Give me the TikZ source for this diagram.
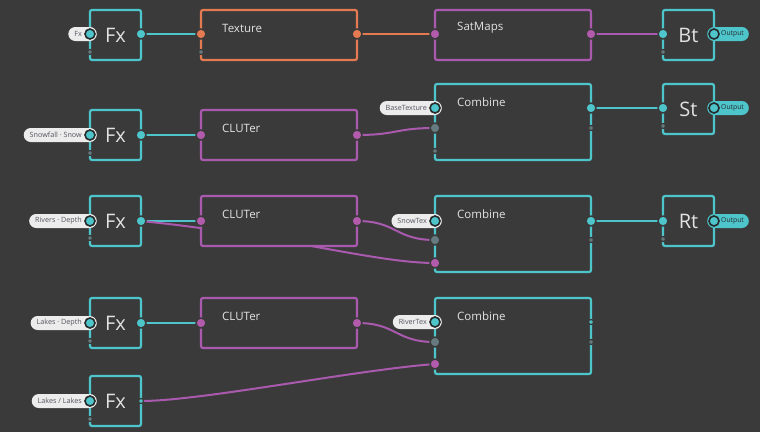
\documentclass[tikz,border=0pt]{standalone}
\usepackage{fontspec}
\setmainfont{Open Sans}
\pgfdeclarelayer{back}
\pgfdeclarelayer{wires}
\pgfsetlayers{back,wires,main}

\definecolor{bgdark}{HTML}{3A3A3A}
\definecolor{ncyan}{HTML}{4EC4CB}
\definecolor{norange}{HTML}{E47A52}
\definecolor{npurple}{HTML}{A95AAE}
\definecolor{ppurple}{HTML}{B25AAC}
\definecolor{pgrey}{HTML}{667A80}
\definecolor{ringdark}{HTML}{262A2B}
\definecolor{pillwhite}{HTML}{ECECEC}
\definecolor{pilltext}{HTML}{555560}
\definecolor{titletext}{HTML}{E2E2E2}

\tikzstyle{fxbox} = [draw=ncyan, line width=2.2pt, fill=bgdark, rounded corners=2pt, minimum width=51pt, minimum height=50pt, inner sep=0pt, text=titletext, font=\fontsize{20}{20}\selectfont]
\tikzstyle{bigbox} = [line width=2.2pt, fill=bgdark, rounded corners=2pt, minimum width=156pt, inner sep=0pt]
\tikzstyle{title} = [anchor=west, inner sep=0pt, text=titletext, font=\fontsize{11.5}{12}\selectfont]
\tikzstyle{port} = [circle, minimum size=10pt, inner sep=0pt, draw=bgdark, line width=1.4pt]
\tikzstyle{dot} = [circle, minimum size=5pt, inner sep=0pt, fill=pgrey, draw=bgdark, line width=1.2pt]
\tikzstyle{ring} = [circle, minimum size=10pt, inner sep=0pt, fill=ncyan, draw=ringdark, line width=1.6pt]
\tikzstyle{pill} = [rounded corners=7pt, fill=pillwhite, text=pilltext, minimum height=14pt, inner xsep=6pt, inner ysep=0pt, font=\fontsize{7.2}{8}\selectfont, anchor=east]
\tikzstyle{outpill} = [rounded corners=7pt, fill=ncyan, text=ringdark, minimum height=14pt, inner xsep=5pt, inner ysep=0pt, font=\fontsize{6.8}{7}\selectfont, anchor=west]
\tikzstyle{wire} = [line width=2pt]

\begin{document}
\begin{tikzpicture}[x=1pt, y=-1pt]
\begin{pgfonlayer}{back}
\fill[bgdark] (0,0) rectangle (760,432);
\end{pgfonlayer}
%begin row1
\node[fxbox] (fx1) at (115.5,35) {Fx};
\node[bigbox, draw=norange, minimum height=50pt] (tex) at (279,35) {};
\node[title] (textitle) at (222,28) {Texture};
\node[bigbox, draw=npurple, minimum height=50pt] (sat) at (513,35) {};
\node[title] (sattitle) at (457,28) {SatMaps};
\node[fxbox] (bt) at (688.5,35) {Bt};
\node[pill] (fx1pill) at (97,34) {Fx\kern9pt};
\node[ring] (fx1in) at (90,34) {};
\node[dot] (fx1d) at (90,52) {};
\node[port, fill=ncyan] (fx1out) at (141,34) {};
\node[port, fill=norange] (texin) at (201,34) {};
\node[dot] (texd) at (201,52) {};
\node[port, fill=norange] (texout) at (357,34) {};
\node[port, fill=ppurple] (satin) at (435,34) {};
\node[port, fill=ppurple] (satout) at (591,34) {};
\node[port, fill=ncyan] (btin) at (663,34) {};
\node[dot] (btd) at (663,52) {};
\node[outpill] (btpill) at (707,34) {\kern9pt Output};
\node[ring] (btout) at (714,34) {};
%end row1
%begin row2
\node[fxbox] (fx2) at (115.5,135) {Fx};
\node[bigbox, draw=npurple, minimum height=50pt] (clu2) at (279,135) {};
\node[title] (clu2title) at (222,128) {CLUTer};
\node[bigbox, draw=ncyan, minimum height=76pt] (comb2) at (513,122) {};
\node[title] (comb2title) at (457,102) {Combine};
\node[fxbox] (st) at (688.5,109) {St};
\node[pill] (fx2pill) at (97,135) {Snowfall · Snow\kern9pt};
\node[ring] (fx2in) at (90,135) {};
\node[dot] (fx2d) at (90,153) {};
\node[port, fill=ncyan] (fx2out) at (141,135) {};
\node[port, fill=ppurple] (clu2in) at (201,135) {};
\node[port, fill=ppurple] (clu2out) at (357,135) {};
\node[pill] (comb2pill) at (442,108) {BaseTexture\kern9pt};
\node[ring] (comb2a) at (435,108) {};
\node[port, fill=pgrey] (comb2b) at (435,128) {};
\node[dot] (comb2d) at (435,151) {};
\node[port, fill=ncyan] (comb2out) at (591,108) {};
\node[dot] (comb2e) at (591,128) {};
\node[port, fill=ncyan] (stin) at (663,108) {};
\node[dot] (std) at (663,126) {};
\node[outpill] (stpill) at (707,108) {\kern9pt Output};
\node[ring] (stout) at (714,108) {};
%end row2
%begin row3
\node[fxbox] (fx3) at (115.5,221) {Fx};
\node[bigbox, draw=npurple, minimum height=50pt] (clu3) at (279,221) {};
\node[title] (clu3title) at (222,214) {CLUTer};
\node[bigbox, draw=ncyan, minimum height=76pt] (comb3) at (513,234) {};
\node[title] (comb3title) at (457,214) {Combine};
\node[fxbox] (rt) at (688.5,221) {Rt};
\node[pill] (fx3pill) at (97,221) {Rivers · Depth\kern9pt};
\node[ring] (fx3in) at (90,221) {};
\node[dot] (fx3d) at (90,238) {};
\node[port, fill=ncyan] (fx3out) at (141,221) {};
\node[port, fill=ppurple] (clu3in) at (201,221) {};
\node[port, fill=ppurple] (clu3out) at (357,221) {};
\node[pill] (comb3pill) at (442,221) {SnowTex\kern9pt};
\node[ring] (comb3a) at (435,221) {};
\node[port, fill=pgrey] (comb3b) at (435,240) {};
\node[port, fill=ppurple] (comb3c) at (435,263) {};
\node[port, fill=ncyan] (comb3out) at (591,221) {};
\node[dot] (comb3e) at (591,240) {};
\node[port, fill=ncyan] (rtin) at (663,221) {};
\node[dot] (rtd) at (663,239) {};
\node[outpill] (rtpill) at (707,221) {\kern9pt Output};
\node[ring] (rtout) at (714,221) {};
%end row3
%begin row4
\node[fxbox] (fx4) at (115.5,323) {Fx};
\node[bigbox, draw=npurple, minimum height=50pt] (clu4) at (279,323) {};
\node[title] (clu4title) at (222,316) {CLUTer};
\node[bigbox, draw=ncyan, minimum height=76pt] (comb4) at (513,336) {};
\node[title] (comb4title) at (457,316) {Combine};
\node[pill] (fx4pill) at (97,323) {Lakes · Depth\kern9pt};
\node[ring] (fx4in) at (90,323) {};
\node[dot] (fx4d) at (90,341) {};
\node[port, fill=ncyan] (fx4out) at (141,323) {};
\node[port, fill=ppurple] (clu4in) at (201,323) {};
\node[port, fill=ppurple] (clu4out) at (357,323) {};
\node[pill] (comb4pill) at (442,322) {RiverTex\kern9pt};
\node[ring] (comb4a) at (435,322) {};
\node[port, fill=pgrey] (comb4b) at (435,342) {};
\node[port, fill=ppurple] (comb4c) at (435,364) {};
\node[dot, fill=ncyan] (comb4out) at (591,322) {};
\node[dot] (comb4e) at (591,342) {};
%end row4
%begin row5
\node[fxbox] (fx5) at (115.5,401) {Fx};
\node[pill] (fx5pill) at (97,401) {Lakes / Lakes\kern9pt};
\node[ring] (fx5in) at (90,401) {};
\node[dot] (fx5d) at (90,419) {};
\node[dot, fill=ncyan] (fx5out) at (141,401) {};
%end row5
%begin wires
\begin{pgfonlayer}{wires}
\draw[wire, ncyan] (fx1out.center) -- (texin.center);
\draw[wire, norange] (texout.center) -- (satin.center);
\draw[wire, npurple] (satout.center) -- (btin.center);
\draw[wire, ncyan] (fx2out.center) -- (clu2in.center);
\draw[wire, npurple] (clu2out.center) .. controls +(40,0) and +(-40,0) .. (comb2b.center);
\draw[wire, ncyan] (comb2out.center) -- (stin.center);
\draw[wire, ncyan] (fx3out.center) -- (clu3in.center);
\draw[wire, npurple] (fx3out.center) .. controls +(140,14) and +(-60,0) .. (comb3c.center);
\draw[wire, npurple] (clu3out.center) .. controls +(40,0) and +(-40,0) .. (comb3b.center);
\draw[wire, ncyan] (comb3out.center) -- (rtin.center);
\draw[wire, ncyan] (fx4out.center) -- (clu4in.center);
\draw[wire, npurple] (clu4out.center) .. controls +(40,0) and +(-40,0) .. (comb4b.center);
\draw[wire, npurple] (fx5out.center) .. controls +(60,0) and +(-80,6) .. (comb4c.center);
\end{pgfonlayer}
%end wires
\end{tikzpicture}
\end{document}
